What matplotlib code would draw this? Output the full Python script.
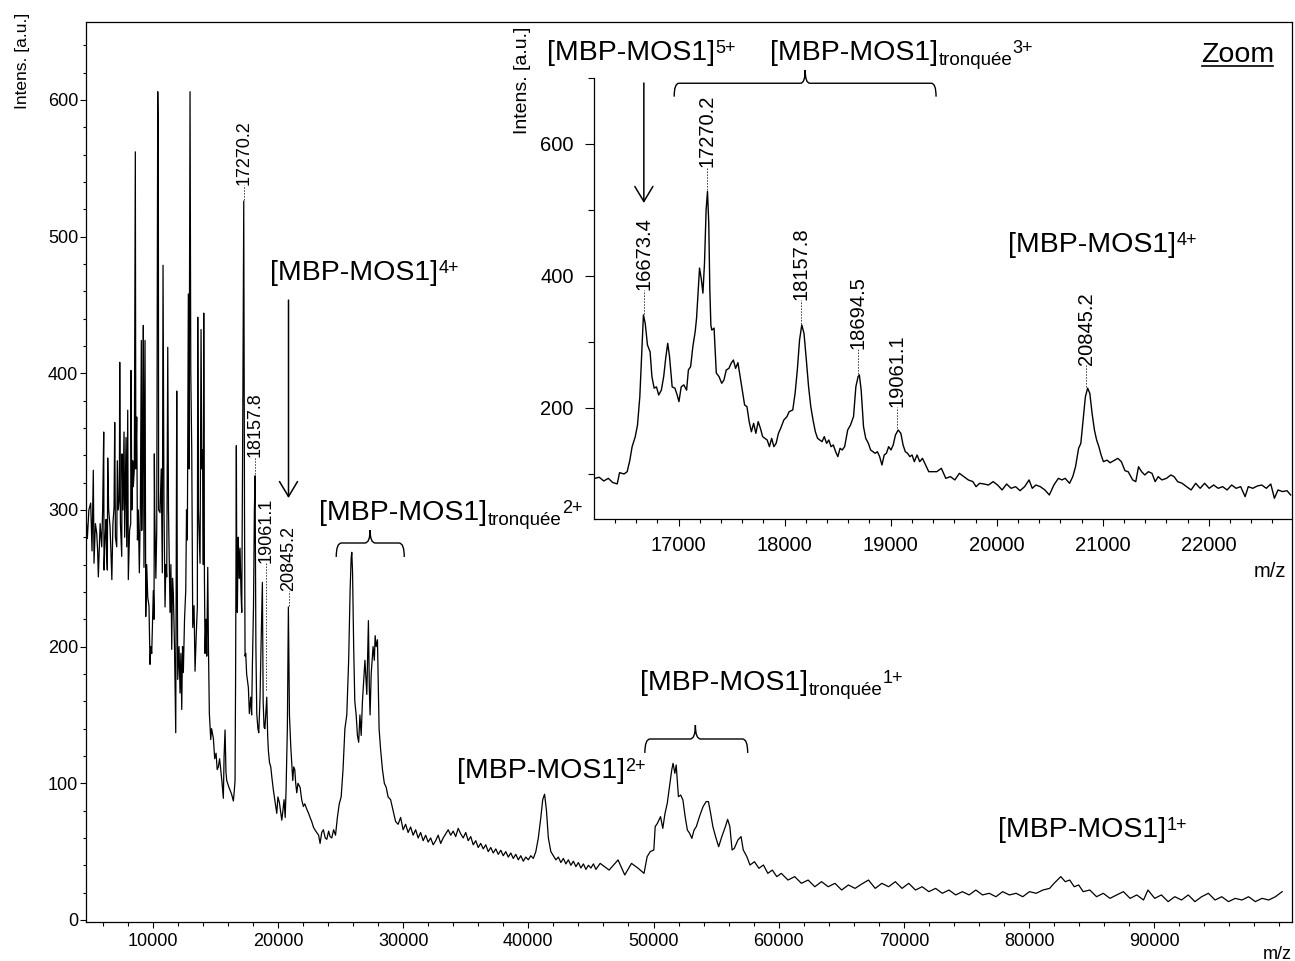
import matplotlib
matplotlib.use('Agg')
import matplotlib.pyplot as plt
from matplotlib.path import Path
from matplotlib.patches import PathPatch
from matplotlib.lines import Line2D
from matplotlib.ticker import FixedLocator

plt.rcParams['font.family'] = ['Liberation Sans', 'DejaVu Sans']

# ---------------- main spectrum (m/z, intensity) ----------------
main_mz = [4670, 4777, 4900, 5046, 5150, 5254, 5310, 5420, 5526, 5600, 5655, 5800, 5925, 6000, 6085, 6109,
           6200, 6270, 6330, 6374, 6404, 6480, 6588, 6660, 6734, 6820, 6910, 6964, 7020, 7125, 7172, 7250,
           7333, 7364, 7420, 7524, 7547, 7620, 7707, 7760, 7867, 7922, 8003, 8050, 8150, 8242, 8266, 8330,
           8402, 8450, 8530, 8610, 8650, 8722, 8780, 8850, 8930, 9010, 9090, 9122, 9180, 9250, 9300, 9385,
           9441, 9520, 9601, 9700, 9784, 9850, 9920, 10048, 10104, 10130, 10160, 10250, 10320, 10400, 10447,
           10470, 10583, 10680, 10767, 10823, 10900, 10983, 11050, 11119, 11200, 11260, 11382, 11450, 11518,
           11580, 11646, 11740, 11838, 11918, 11960, 11998, 12100, 12181, 12250, 12317, 12380, 12445, 12540,
           12637, 12700, 12765, 12845, 12900, 12980, 13040, 13116, 13196, 13300, 13380, 13480, 13564, 13596,
           13650, 13780, 13860, 13920, 13995, 14040, 14075, 14130, 14179, 14250, 14315, 14395, 14450, 14523,
           14634, 14700, 14842, 14950, 15058, 15150, 15242, 15340, 15433, 15540, 15641, 15700, 15777, 15850,
           15913, 16050, 16177, 16300, 16441, 16520, 16575, 16620, 16680, 16720, 16760, 16820, 16872, 16920,
           16975, 17050, 17111, 17200, 17270, 17330, 17374, 17430, 17500, 17558, 17640, 17718, 17830, 17900,
           17958, 18050, 18120, 18174, 18240, 18310, 18400, 18470, 18573, 18650, 18758, 18820, 18893, 18960,
           19029, 19108, 19180, 19236, 19330, 19428, 19508, 19636, 19750, 19908, 20000, 20115, 20200, 20307,
           20400, 20491, 20580, 20650, 20755, 20835, 20920, 21026, 21100, 21186, 21260, 21346, 21420, 21506,
           21600, 21770, 21900, 22033, 22150, 22305, 22450, 22568, 22700, 22832, 22950, 23104, 23250, 23367,
           23500, 23631, 23780, 23903, 24050, 24167, 24300, 24450, 24600, 24750, 24900, 25050, 25200, 25350,
           25500, 25650, 25765, 25850, 25900, 25960, 26050, 26140, 26250, 26350, 26450, 26550, 26650, 26750,
           26850, 26950, 27100, 27228, 27300, 27360, 27450, 27600, 27700, 27765, 27850, 27950, 28080, 28200,
           28350, 28500, 28650, 28800, 29000, 29200, 29400, 29600, 29800, 30000, 30200, 30400, 30600, 30800,
           31000, 31200, 31400, 31600, 31800, 32000, 32200, 32400, 32600, 32800, 33000, 33200, 33400, 33600,
           33800, 34000, 34200, 34400, 34600, 34800, 35000, 35200, 35400, 35600, 35800, 36000, 36200, 36400,
           36600, 36800, 37000, 37200, 37400, 37600, 37800, 38000, 38200, 38400, 38600, 38800, 39000, 39200,
           39400, 39600, 39800, 40000, 40200, 40400, 40600, 40800, 41000, 41150, 41300, 41450, 41600, 41800,
           42000, 42200, 42400, 42600, 42800, 43000, 43200, 43400, 43600, 43800, 44000, 44200, 44400, 44600,
           44800, 45000, 45200, 45400, 45740, 46454, 47169, 47705, 48240, 48776, 49240, 49491, 49741, 50026,
           50134, 50312, 50562, 50741, 50919, 51098, 51277, 51455, 51562, 51705, 51812, 51991, 52170, 52348,
           52527, 52705, 52884, 53063, 53241, 53420, 53670, 53956, 54206, 54385, 54563, 54742, 54956, 55206,
           55456, 55742, 55920, 56099, 56277, 56456, 56742, 56992, 57170, 57456, 57706, 58063, 58421, 58778,
           59135, 59492, 59849, 60206, 60742, 61278, 61814, 62350, 62886, 63421, 63957, 64493, 65029, 65565,
           66100, 66636, 67172, 67708, 68244, 68779, 69315, 69851, 70387, 70923, 71458, 71994, 72530, 73066,
           73602, 74137, 74673, 75209, 75745, 76281, 76816, 77352, 77888, 78424, 78960, 79495, 80031, 80567,
           81103, 81639, 81996, 82532, 82889, 83246, 83603, 83961, 84318, 84853, 85389, 85925, 86461, 86997,
           87532, 88068, 88604, 89140, 89497, 90033, 90569, 91104, 91640, 92176, 92712, 93248, 93783, 94319,
           94855, 95391, 95927, 96462, 96998, 97534, 98070, 98606, 99142, 99677, 100213]
main_int = [297, 279, 300, 305, 270, 329, 261, 290, 283, 270, 251, 290, 273, 300, 357, 256,
            280, 293, 265, 256, 338, 300, 288, 270, 249, 290, 302, 364, 280, 273, 336, 300,
            309, 408, 290, 266, 341, 300, 357, 280, 353, 273, 373, 249, 285, 290, 402, 300,
            336, 317, 330, 562, 330, 368, 278, 300, 254, 300, 424, 285, 330, 435, 258, 424,
            222, 260, 236, 230, 187, 200, 195, 241, 220, 341, 300, 250, 285, 606, 574,
            300, 298, 330, 254, 479, 300, 229, 260, 251, 419, 300, 225, 260, 198,
            250, 239, 200, 137, 387, 250, 176, 200, 166, 195, 154, 200, 181, 220,
            241, 300, 278, 458, 330, 606, 400, 344, 214, 230, 182, 210, 229, 441,
            300, 261, 432, 330, 344, 260, 444, 250, 195, 220, 193, 258, 200, 151,
            132, 140, 133, 118, 122, 110, 112, 118, 110, 100, 89, 120, 139, 108,
            102, 98, 95, 92, 87, 95, 102, 180, 347, 230, 225, 280, 268, 250,
            272, 240, 225, 380, 526, 300, 193, 195, 180, 176, 170, 151, 163, 150,
            185, 230, 300, 325, 200, 151, 140, 137, 163, 200, 247, 160, 141, 140,
            151, 163, 135, 124, 115, 112, 105, 95, 88, 78, 90, 86, 80, 73,
            80, 88, 75, 95, 141, 229, 150, 127, 115, 102, 112, 110, 100, 93,
            100, 97, 88, 83, 85, 81, 78, 75, 72, 68, 66, 64, 62, 56,
            64, 66, 60, 59, 65, 61, 60, 66, 62, 75, 85, 90, 110, 140,
            150, 190, 241, 265, 269, 255, 200, 160, 150, 135, 130, 150, 135, 160,
            175, 190, 165, 219, 170, 150, 180, 200, 190, 208, 200, 205, 140, 125,
            110, 100, 97, 90, 88, 80, 72, 70, 75, 66, 70, 64, 68, 62,
            66, 60, 64, 58, 62, 57, 60, 55, 58, 62, 56, 60, 63, 66,
            62, 65, 61, 67, 63, 60, 64, 58, 61, 55, 58, 53, 56, 52,
            55, 50, 53, 49, 52, 48, 51, 47, 50, 46, 49, 45, 48, 44,
            47, 43, 46, 44, 47, 45, 50, 60, 75, 88, 92, 80, 60, 50,
            47, 44, 46, 42, 45, 41, 44, 40, 43, 39, 42, 38, 41, 37,
            40, 38, 41, 37, 41.4, 36.5, 43.9, 32.9, 41.4, 37.8, 34.1, 46.3, 50, 51.2,
            68.3, 70.7, 75.6, 67, 78, 85.3, 97.5, 109.7, 114.6, 107.3, 113.4, 90.2, 91.4, 87.8,
            75.6, 65.8, 63.4, 59.7, 65.8, 68.3, 75.6, 82.9, 86.6, 86.6, 78, 68.3, 61, 53.6,
            61, 68.3, 73.6, 68.3, 51.2, 52.4, 58.5, 61, 51.2, 46.3, 40.2, 42.6, 37.8, 40.2,
            34.1, 36.5, 31.7, 34.1, 29.2, 31.7, 26.8, 29.2, 24.3, 28, 24.3, 26.8, 21.9, 25.6,
            23.1, 26.3, 29.2, 23.1, 26.8, 24.3, 28, 23.1, 26.8, 21.9, 24.3, 20.7, 23.1, 19.5,
            21.9, 18.3, 20.7, 18.3, 21.9, 18.3, 19.5, 17, 20.7, 18.3, 19.5, 17, 20.7, 19.5,
            21.9, 23.1, 26.8, 31.7, 28, 29.2, 24.3, 25.6, 20.7, 21.9, 17, 19.5, 15.8, 18.3,
            20.7, 15.8, 18.3, 14.6, 21.9, 15.8, 18.3, 13.4, 17, 14.6, 18.3, 13.4, 17, 19.5,
            14.6, 17, 13.4, 15.8, 14.6, 17, 13.4, 15.8, 14.6, 17, 20.7]

main_xticks = [10000, 20000, 30000, 40000, 50000, 60000, 70000, 80000, 90000]
main_xticklabels = ['10000', '20000', '30000', '40000', '50000', '60000', '70000', '80000', '90000']
main_yticks = [0, 100, 200, 300, 400, 500, 600]
main_yticklabels = ['0', '100', '200', '300', '400', '500', '600']

# labelled peaks on the main spectrum: position, peak top, label base
main_peak_mz = [17270.2, 18157.8, 19061.1, 20845.2]
main_peak_labels = ['17270.2', '18157.8', '19061.1', '20845.2']
main_peak_top = [526, 325, 167, 229]
main_peak_label_base = [538, 339, 261, 241]

# ---------------- zoomed spectrum ----------------
zoom_mz = [16210, 16253, 16295, 16338, 16380, 16422, 16444, 16486, 16516, 16541, 16562, 16592, 16613, 16635,
           16656, 16669, 16686, 16707, 16732, 16749, 16770, 16792, 16813, 16838, 16860, 16881, 16898, 16915,
           16940, 16966, 16987, 17004, 17025, 17050, 17076, 17093, 17114, 17135, 17157, 17170, 17198, 17215,
           17230, 17245, 17260, 17273, 17285, 17295, 17305, 17314, 17335, 17356, 17382, 17407, 17428, 17450,
           17475, 17496, 17517, 17538, 17560, 17581, 17602, 17623, 17645, 17666, 17687, 17708, 17729, 17751,
           17772, 17793, 17814, 17836, 17857, 17878, 17899, 17920, 17942, 17963, 17993, 18022, 18043, 18077,
           18099, 18120, 18141, 18162, 18183, 18205, 18226, 18247, 18268, 18290, 18311, 18332, 18353, 18374,
           18396, 18417, 18438, 18459, 18481, 18502, 18523, 18544, 18566, 18595, 18621, 18650, 18672, 18693,
           18705, 18722, 18744, 18765, 18790, 18811, 18833, 18854, 18875, 18896, 18918, 18939, 18960, 18981,
           19003, 19024, 19045, 19071, 19096, 19117, 19138, 19160, 19181, 19202, 19223, 19249, 19274, 19300,
           19329, 19359, 19393, 19435, 19478, 19520, 19563, 19605, 19648, 19690, 19732, 19775, 19805, 19839,
           19881, 19923, 19966, 20008, 20051, 20093, 20136, 20178, 20220, 20263, 20305, 20335, 20369, 20411,
           20454, 20496, 20539, 20581, 20615, 20645, 20687, 20717, 20743, 20772, 20793, 20815, 20836, 20857,
           20878, 20899, 20921, 20942, 20963, 20984, 21006, 21040, 21069, 21112, 21142, 21175, 21209, 21239,
           21282, 21311, 21337, 21366, 21396, 21430, 21464, 21494, 21523, 21557, 21600, 21642, 21672, 21706,
           21748, 21790, 21833, 21876, 21918, 21960, 22003, 22045, 22088, 22130, 22172, 22215, 22257, 22300,
           22342, 22372, 22414, 22457, 22499, 22542, 22584, 22618, 22652, 22694, 22737, 22771]
zoom_int = [93.4, 95, 89.4, 93.4, 87, 85, 102, 100, 103.5, 121, 141, 156.6, 174, 217,
            293, 341, 328, 295.5, 285, 247.5, 230, 232, 219.7, 227, 247.5, 278, 298, 278,
            232, 230, 219.7, 209.6, 232, 235, 227, 257.6, 262.6, 293, 315.7, 336, 412, 395,
            374, 420, 500, 528, 480, 380, 325, 318, 321, 253, 247.5, 237.4, 242.4, 257.6,
            260, 267.7, 272.7, 260, 268.7, 247.5, 227, 204.6, 202, 179.3, 164, 176.8, 161.6, 179.3,
            169.2, 156.6, 154, 151.5, 141.4, 154, 141.4, 146.4, 161.6, 169.2, 181.8, 186.9, 194.4, 197,
            222.2, 257.6, 303, 325.8, 313, 272.7, 232.3, 202, 181.8, 164, 154, 151.5, 149, 156.6,
            146.4, 151.5, 141.4, 144, 133.8, 126.3, 138.9, 136.4, 141.4, 166.7, 174, 187, 232.3, 247.5,
            250, 227, 171.7, 154, 146.4, 136.4, 133.8, 131.3, 133.8, 126.3, 113.6, 128.8, 131.3, 141.4,
            136.4, 144, 159, 166.7, 161.6, 144, 133.8, 131.3, 126.3, 128.8, 118.7, 128.8, 118.7, 123.7,
            113.6, 103.5, 103.5, 103.5, 108.6, 93.4, 96, 91, 101, 96, 91, 88.4, 80.8, 85.9,
            84.8, 83.3, 88.4, 83.3, 75.8, 84.8, 78.3, 80.8, 74.7, 80.8, 91, 78.3, 83.3, 80.8,
            75.8, 68.2, 83.3, 93.4, 91, 93.4, 85.9, 96, 111, 138.9, 146.4, 181.8, 217, 230,
            222, 192, 166.7, 151.5, 141.4, 128.8, 118.7, 121, 117, 121, 123.7, 118.7, 105, 103.5,
            91, 88.4, 111, 103.5, 98.5, 103.5, 101, 88.4, 96, 91, 93.4, 98.5, 96, 88.4,
            85.9, 80.8, 75.8, 85.9, 78.3, 85.9, 78.3, 83.3, 78.3, 80.8, 75.8, 83.3, 78.3, 80.8,
            65.7, 80.8, 78.3, 81.8, 83.3, 78.3, 84.8, 63.2, 75.8, 73.3, 74.7, 68.2]

zoom_xticks = [17000, 18000, 19000, 20000, 21000, 22000]
zoom_xticklabels = ['17000', '18000', '19000', '20000', '21000', '22000']
zoom_yticks = [200, 400, 600]
zoom_yticklabels = ['200', '400', '600']

zoom_peak_mz = [16673.4, 17270.2, 18157.8, 18694.5, 19061.1, 20845.2]
zoom_peak_labels = ['16673.4', '17270.2', '18157.8', '18694.5', '19061.1', '20845.2']
zoom_peak_top = [341, 528, 326, 250, 167, 230]
zoom_peak_label_base = [379, 565, 364, 290, 201, 265]

# ---------------- figure ----------------
W, H = 1295, 961
fig = plt.figure(figsize=(W / 100, H / 100), dpi=100)

ax = fig.add_axes([86 / W, (H - 922) / H, (1292 - 86) / W, (922 - 22) / H])
ax.plot(main_mz, main_int, color='black', lw=0.9, zorder=2)
ax.set_xlim(4670, 101000)
ax.set_ylim(-1.5, 657)
ax.set_xticks(main_xticks)
ax.set_xticklabels(main_xticklabels)
ax.xaxis.set_minor_locator(FixedLocator(list(range(6000, 100001, 2000))))
ax.set_yticks(main_yticks)
ax.set_yticklabels(main_yticklabels)
ax.yaxis.set_minor_locator(FixedLocator(list(range(0, 641, 20))))
ax.tick_params(axis='x', which='major', length=4.3, width=0.8, labelsize=13, pad=3.5)
ax.tick_params(axis='x', which='minor', length=2.9, width=0.8)
ax.tick_params(axis='y', which='major', length=4.3, width=0.8, labelsize=13, pad=1.2)
ax.tick_params(axis='y', which='minor', length=2.4, width=0.8)
for s in ax.spines.values():
    s.set_linewidth(0.9)

dot = (0, (1.6, 1.4))
for mz, lab, top, base in zip(main_peak_mz, main_peak_labels, main_peak_top, main_peak_label_base):
    ax.plot([mz, mz], [top + 1, base], ls=dot, lw=0.7, color='0.25')
    ax.text(mz, base, lab, rotation=90, ha='center', va='bottom', fontsize=13)


def species(axx, x, y, sub=None, sup=None, size=20.5, subsize=13.5, supsize=13):
    t = axx.text(x, y, '[MBP-MOS1]', fontsize=size, ha='left', va='baseline')
    anchor = t
    if sub:
        anchor = axx.annotate(sub, xy=(1, 0), xycoords=t, xytext=(0.3, 0.8),
                              textcoords='offset points', fontsize=subsize,
                              ha='left', va='baseline')
    if sup:
        axx.annotate(sup, xy=(1, 1), xycoords=(anchor, t), xytext=(0.3, 0),
                     textcoords='offset points', fontsize=supsize, ha='left', va='top')


def brace(axx, x0, x1, xc, yh, ye, yt, r):
    verts = [(x0, ye), (x0, yh), (x0 + r, yh), (xc - r, yh), (xc, yh), (xc, yt),
             (xc, yh), (xc + r, yh), (x1 - r, yh), (x1, yh), (x1, ye)]
    codes = [Path.MOVETO, Path.CURVE3, Path.CURVE3, Path.LINETO, Path.CURVE3, Path.CURVE3,
             Path.CURVE3, Path.CURVE3, Path.LINETO, Path.CURVE3, Path.CURVE3]
    axx.add_patch(PathPatch(Path(verts, codes), fc='none', ec='black', lw=1.0))


def down_arrow(axx, x, y_tail, y_head):
    axx.annotate('', xy=(x, y_head), xytext=(x, y_tail),
                 arrowprops=dict(arrowstyle='->,head_length=10.8,head_width=6.5',
                                 mutation_scale=1, lw=1.1, color='black',
                                 shrinkA=0, shrinkB=0))


# main annotations
species(ax, 19372, 468.2, sup='4+')
down_arrow(ax, 20845, 453.5, 308.7)
species(ax, 23287, 292.6, sub='tronquée', sup='2+')
brace(ax, 24658, 30091, 27360, 275.8, 265.6, 285.3, 420)
species(ax, 34313, 103.9, sup='2+')
species(ax, 48936, 168.3, sub='tronquée', sup='1+')
brace(ax, 49309, 57523, 53345, 132.4, 122.2, 142.6, 420)
species(ax, 77546, 60.5, sup='1+')

# ---------------- inset ----------------
axi = fig.add_axes([594 / W, (H - 519) / H, (1292 - 594) / W, (519 - 22) / H])
axi.patch.set_visible(False)
axi.plot(zoom_mz, zoom_int, color='black', lw=1.0)
axi.set_xlim(16203, 22784)
axi.set_ylim(31.8, 784.8)
axi.spines['top'].set_visible(False)
axi.spines['right'].set_visible(False)
axi.spines['left'].set_bounds(31.8, 700)
for s in axi.spines.values():
    s.set_linewidth(0.9)
axi.set_xticks(zoom_xticks)
axi.set_xticklabels(zoom_xticklabels)
axi.xaxis.set_minor_locator(FixedLocator(list(range(16400, 22701, 200))))
axi.set_yticks(zoom_yticks)
axi.set_yticklabels(zoom_yticklabels)
axi.yaxis.set_minor_locator(FixedLocator([100, 300, 500, 700]))
axi.tick_params(axis='x', which='major', length=4.8, width=0.8, labelsize=14.5, pad=7.5)
axi.tick_params(axis='x', which='minor', length=2.9, width=0.8)
axi.tick_params(axis='y', which='major', length=6.5, width=0.8, labelsize=14.5, pad=8.2)
axi.tick_params(axis='y', which='minor', length=4.1, width=0.8)

for mz, lab, top, base in zip(zoom_peak_mz, zoom_peak_labels, zoom_peak_top, zoom_peak_label_base):
    axi.plot([mz, mz], [top + 2, base], ls=dot, lw=0.7, color='0.25')
    axi.text(mz, base, lab, rotation=90, ha='center', va='bottom', fontsize=14.5)

species(axi, 15760, 727.3, sup='5+')
down_arrow(axi, 16673, 692.4, 510.6)
species(axi, 17864, 727.3, sub='tronquée', sup='3+')
brace(axi, 16959, 19428, 18194, 692, 671.7, 712, 45)
species(axi, 20105, 436.4, sup='4+')

zt = fig.text(1274 / W, 1 - 62 / H, 'Zoom', ha='right', va='baseline', fontsize=20.5)

# axis titles
fig.text(22 / W, 1 - 13 / H, 'Intens. [a.u.]', rotation=90, ha='center', va='top', fontsize=12.5)
fig.text(522.5 / W, 1 - 27 / H, 'Intens. [a.u.]', rotation=90, ha='center', va='top', fontsize=14)
fig.text(1292 / W, 1 - 959 / H, 'm/z', ha='right', va='baseline', fontsize=13)
fig.text(1286 / W, 1 - 577 / H, 'm/z', ha='right', va='baseline', fontsize=14.5)

# underline "Zoom"
fig.canvas.draw()
bb = zt.get_window_extent(fig.canvas.get_renderer())
fig.add_artist(Line2D([bb.x0 + 1, bb.x1 - 1], [H - 65.5, H - 65.5], transform=None,
                      color='black', lw=1.2))

fig.savefig('out.png', dpi=100)
